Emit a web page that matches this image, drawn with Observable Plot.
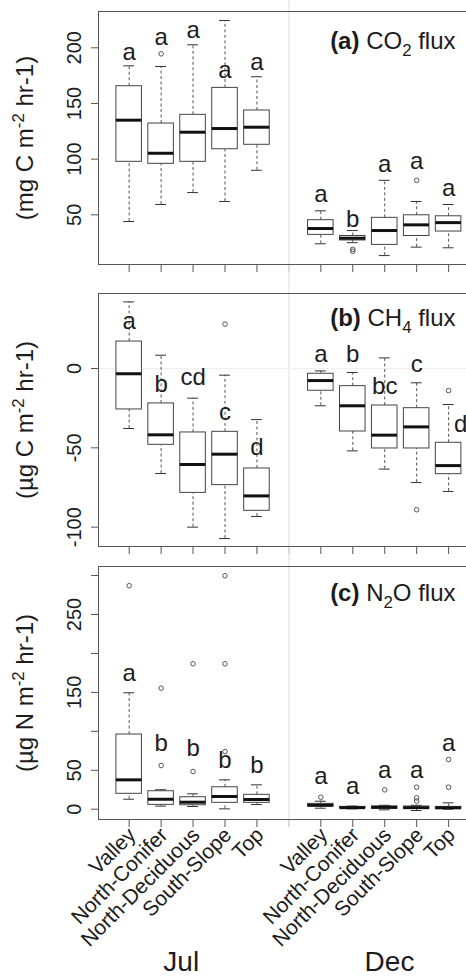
<!DOCTYPE html>
<html><head><meta charset="utf-8">
<script src="https://cdn.jsdelivr.net/npm/d3@7"></script>
<script src="https://cdn.jsdelivr.net/npm/@observablehq/plot@0.6"></script>
<style>
html,body{margin:0;padding:0;background:#fff;overflow:hidden;}
#chart svg{display:block;}
</style></head><body><div id="chart"></div>
<script>
// ---------- data ----------
const sites = ["Valley", "North-Conifer", "North-Deciduous", "South-Slope", "Top"];
const months = ["Jul", "Dec"];
const monthPos = [2.63, 9.15];
const groupPos = [1, 2, 3, 4, 5, 7, 8, 9, 10, 11];   // Jul sites 1-5, Dec sites 7-11
const xTicks = [1, 2, 3, 4, 5, 6, 7, 8, 9, 10, 11];
const xDomain = [0.04, 11.56];

// [lower whisker, Q1, median, Q3, upper whisker] — Jul x5 then Dec x5
const co2Stats = [
  [44, 97.6, 135, 165.5, 183.8], [59.3, 95.8, 105.3, 132, 183.2], [70, 97.6, 124.2, 139.8, 202.7],
  [62, 108.9, 127.5, 164, 224.5], [90, 112.9, 128.7, 143.7, 174],
  [24, 32, 37.7, 45.2, 53.6], [25, 27, 29, 31, 35.9], [13.4, 23, 35.9, 47.3, 81],
  [21, 31, 41, 49.6, 62], [20.4, 35, 43, 48.7, 59.3]
];
const co2Outliers = [[1, 194.6], [6, 17.3], [6, 19], [8, 81]];
const co2Letters = ["a", "a", "a", "a", "a", "a", "b", "a", "a", "a"];
const co2LetterY = [195.8, 209, 215.5, 179.6, 187, 68, 46.4, 95.8, 97.9, 73.9];
const co2YDomain = [5.4, 232.6];
const co2YTicks = [50, 100, 150, 200];
const co2YLabels = [50, 100, 150, 200];

const ch4Stats = [
  [-37.8, -25.8, -3.3, 17, 42], [-66.2, -48.1, -41.8, -22, 8.4], [-100, -78.4, -60.5, -40.3, -18.7],
  [-107.2, -73.5, -54, -39.9, -4.2], [-93.3, -89.7, -80.3, -63, -32.2],
  [-23.5, -14, -7.6, -3.3, -1.5], [-51.9, -39.7, -23.5, -11.1, -2.5], [-63.4, -50.4, -42, -23.3, 6.7],
  [-71.9, -50.4, -36.8, -25, -9], [-77.5, -66.6, -61.2, -46.8, -22.7]
];
const ch4Outliers = [[3, 28], [8, -89], [9, -13.9]];
const ch4Letters = ["a", "b", "cd", "c", "d", "a", "b", "bc", "c", "d"];
const ch4LetterY = [30, -9.8, -5.7, -27.7, -49.8, 9, 9, -10.9, 2.8, -35];
const ch4LetterShift = [0, 0, 0, 0, 0, 0, 0, 0, 0, 0.38];
const ch4YDomain = [-112.2, 47.3];
const ch4YTicks = [-100, -50, 0];
const ch4YLabels = [-100, -50, 0];

const n2oStats = [
  [12.8, 19.8, 37.7, 95.9, 149.5], [4, 5.6, 12.8, 23.1, 25], [3.5, 5.1, 9, 15.4, 19.8],
  [0.5, 8.2, 16.3, 28.2, 37.7], [6, 8.2, 12.5, 18.5, 31.3],
  [1.3, 3.5, 5.1, 6.9, 10.3], [0.5, 1.2, 2, 3, 4], [-0.8, 0.5, 2.5, 3.5, 5],
  [-1.7, 0.5, 2, 3.5, 5], [0, 0.5, 1.8, 3, 8.2]
];
const n2oOutliers = [[0, 286.9], [1, 155.4], [1, 56.1], [2, 186.7], [2, 48.4], [3, 299.7], [3, 186.7], [3, 74.1],
  [5, 15.4], [7, 24.9], [8, 28.2], [8, 14.6], [8, 10.5], [9, 63.8], [9, 28.2]];
const n2oLetters = ["a", "b", "b", "b", "b", "a", "a", "a", "a", "a"];
const n2oLetterY = [174.6, 85.2, 78.3, 62.5, 56.1, 42, 29, 49.7, 49.7, 85.2];
const n2oYDomain = [-13.2, 311.6];
const n2oYTicks = [0, 50, 100, 150, 200, 250, 300];
const n2oYLabels = [0, 50, 150, 250];

// rich text pieces: [text, kind] kind: "b" bold, "sub", "sup", "" normal
const rich = {
  "(a) CO2 flux": [["(a)", "b"], [" CO", ""], ["2", "sub"], [" flux", ""]],
  "(b) CH4 flux": [["(b)", "b"], [" CH", ""], ["4", "sub"], [" flux", ""]],
  "(c) N2O flux": [["(c)", "b"], [" N", ""], ["2", "sub"], ["O flux", ""]],
  "(mg C m-2 hr-1)": [["(mg C m", ""], ["-2", "sup"], [" hr-1)", ""]],
  "(µg C m-2 hr-1)": [["(µg C m", ""], ["-2", "sup"], [" hr-1)", ""]],
  "(µg N m-2 hr-1)": [["(µg N m", ""], ["-2", "sup"], [" hr-1)", ""]]
};

// ---------- drawing ----------
const W = 466;
const FONT = "'Liberation Sans', Arial, Helvetica, sans-serif";
const INK = "#1c1c1c";

function panel(cfg) {
  const boxes = cfg.stats.map((s, i) => ({x: groupPos[i], lo: s[0], q1: s[1], med: s[2], q3: s[3], hi: s[4]}));
  const outs = cfg.outliers.map(([i, v]) => ({x: groupPos[i], v}));
  const lets = cfg.letters.map((t, i) => ({x: groupPos[i] + ((cfg.letterShift || [])[i] || 0), y: cfg.letterY[i], t}));
  const hw = 0.4, cw = 0.17;
  const marks = [
    Plot.ruleX([6], {stroke: "#e9e9e9", strokeWidth: 1.5, insetTop: -cfg.mt, insetBottom: -(cfg.dividerBottom ?? cfg.mb)}),
    cfg.zeroLine ? Plot.ruleY([0], {stroke: "#f0f0f0", strokeWidth: 1.2}) : null,
    Plot.ruleY([cfg.yDomain[1], cfg.yDomain[0]], {stroke: "#555"}),
    Plot.ruleX([xDomain[0]], {stroke: "#555"}),
    Plot.ruleX(boxes, {x: "x", y1: "q3", y2: "hi", stroke: "#555", strokeDasharray: "3,2.5"}),
    Plot.ruleX(boxes, {x: "x", y1: "lo", y2: "q1", stroke: "#555", strokeDasharray: "3,2.5"}),
    Plot.ruleY(boxes, {y: "hi", x1: d => d.x - cw, x2: d => d.x + cw, stroke: "#333"}),
    Plot.ruleY(boxes, {y: "lo", x1: d => d.x - cw, x2: d => d.x + cw, stroke: "#333"}),
    Plot.rect(boxes, {x1: d => d.x - hw, x2: d => d.x + hw, y1: "q1", y2: "q3", fill: "white", stroke: "#444"}),
    Plot.ruleY(boxes, {y: "med", x1: d => d.x - hw, x2: d => d.x + hw, stroke: "#111", strokeWidth: 3}),
    Plot.dot(outs, {x: "x", y: "v", r: 2.3, stroke: "#555", strokeWidth: 1, fill: "none"}),
    Plot.text(lets, {x: "x", y: "y", text: "t", fontSize: 24, fill: INK, textAnchor: "middle", lineAnchor: "middle"}),
    Plot.text(cfg.yLabels, {y: d => d, frameAnchor: "left", dx: -24, rotate: -90, text: d => String(d),
      fontSize: 20, fill: INK, textAnchor: "middle", lineAnchor: "middle"}),
    Plot.text([cfg.yTitle], {frameAnchor: "left", dx: -73, rotate: -90, text: d => d,
      fontSize: 24, fill: INK, textAnchor: "middle", lineAnchor: "middle"}),
    Plot.text([cfg.title], {frameAnchor: "top-right", dx: -11, dy: cfg.titleDy, text: d => d,
      fontSize: 24, fill: INK, textAnchor: "end", lineAnchor: "middle"})
  ];
  if (cfg.bottomLabels) {
    const cats = [];
    months.forEach((m, mi) => sites.forEach((s, si) => cats.push({x: groupPos[mi * 5 + si], s})));
    marks.push(Plot.text(cats, {x: "x", frameAnchor: "bottom", dx: 3, dy: 12, rotate: -45, text: "s",
      fontSize: 21, fill: INK, textAnchor: "end", lineAnchor: "middle"}));
    marks.push(Plot.text(months, {x: (d, i) => monthPos[i], frameAnchor: "bottom", dy: 143, text: d => d,
      fontSize: 28, fill: INK, textAnchor: "middle", lineAnchor: "middle"}));
  }
  const svg = Plot.plot({
    width: W, height: cfg.height,
    marginLeft: 98, marginRight: 0, marginTop: cfg.mt, marginBottom: cfg.mb,
    style: {fontFamily: FONT, color: "#555", background: "white"},
    x: {type: "linear", domain: xDomain, ticks: xTicks, tickSize: 8, tickFormat: () => "", label: null},
    y: {type: "linear", domain: cfg.yDomain, ticks: cfg.yTicks, tickSize: 7, tickFormat: () => "", label: null},
    marks
  });
  // rich text (bold / sub / superscripts)
  d3.select(svg).selectAll("text").each(function () {
    const key = this.textContent;
    const parts = rich[key];
    if (!parts) return;
    const fs = parseFloat(this.getAttribute("font-size")) || 24;
    const el = d3.select(this);
    el.text(null);
    let shift = 0;
    parts.forEach(([t, kind]) => {
      const ts = el.append("tspan").text(t);
      if (kind === "b") ts.attr("font-weight", "bold");
      if (kind === "sub" || kind === "sup") {
        const off = kind === "sub" ? 0.27 * fs : -0.4 * fs;
        ts.attr("font-size", (0.7 * fs).toFixed(1)).attr("dy", off - shift);
        shift = off;
      } else if (shift !== 0) {
        ts.attr("dy", -shift);
        shift = 0;
      }
    });
  });
  return svg;
}

const root = document.getElementById("chart");
root.appendChild(panel({
  stats: co2Stats, outliers: co2Outliers, letters: co2Letters, letterY: co2LetterY,
  yDomain: co2YDomain, yTicks: co2YTicks, yLabels: co2YLabels,
  yTitle: "(mg C m-2 hr-1)", title: "(a) CO2 flux", titleDy: 30,
  height: 278, mt: 11, mb: 14
}));
root.appendChild(panel({
  stats: ch4Stats, outliers: ch4Outliers, letters: ch4Letters, letterY: ch4LetterY, letterShift: ch4LetterShift,
  yDomain: ch4YDomain, yTicks: ch4YTicks, yLabels: ch4YLabels, zeroLine: true,
  yTitle: "(µg C m-2 hr-1)", title: "(b) CH4 flux", titleDy: 25,
  height: 278, mt: 15, mb: 10
}));
root.appendChild(panel({
  stats: n2oStats, outliers: n2oOutliers, letters: n2oLetters, letterY: n2oLetterY,
  yDomain: n2oYDomain, yTicks: n2oYTicks, yLabels: n2oYLabels,
  yTitle: "(µg N m-2 hr-1)", title: "(c) N2O flux", titleDy: 27,
  height: 423, mt: 10, mb: 160, bottomLabels: true, dividerBottom: 8
}));
</script></body></html>
